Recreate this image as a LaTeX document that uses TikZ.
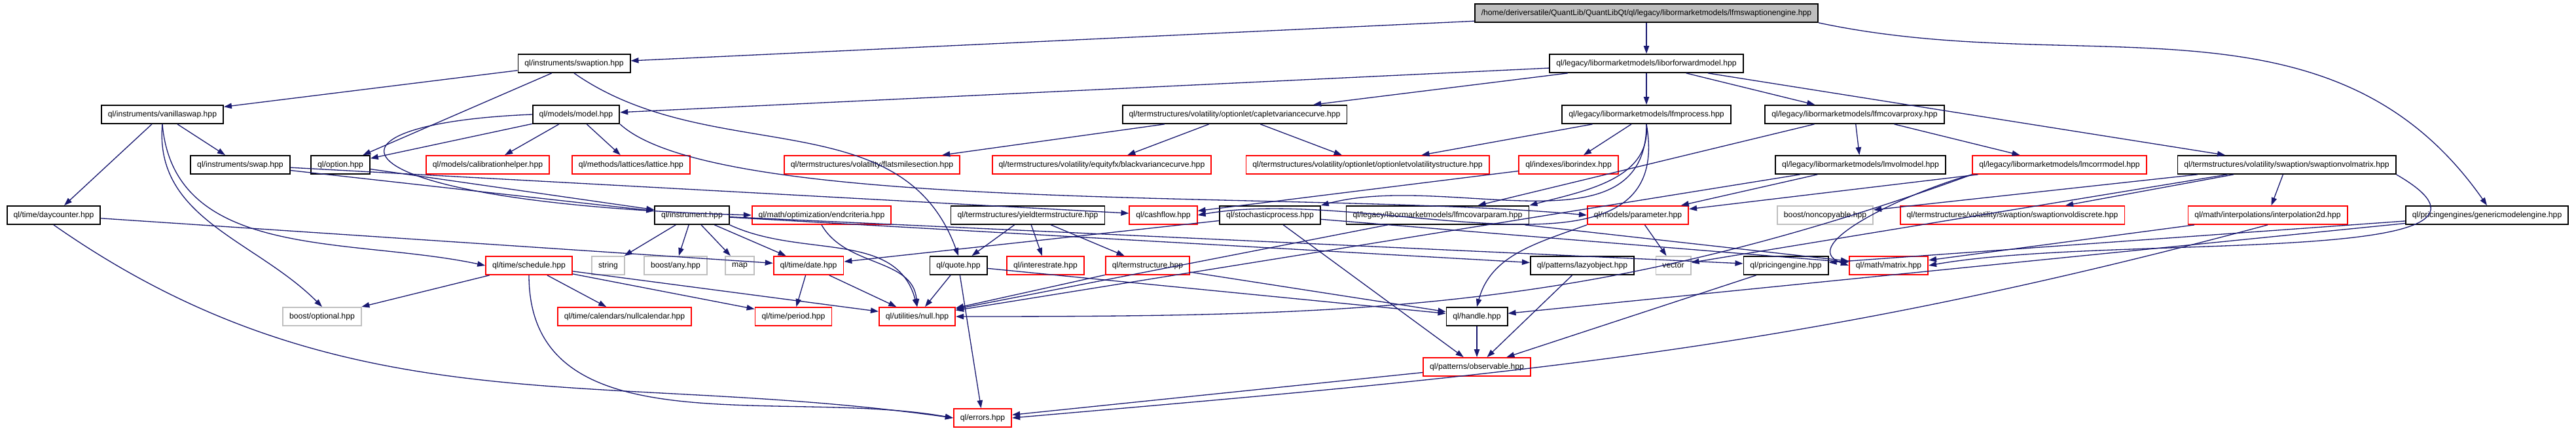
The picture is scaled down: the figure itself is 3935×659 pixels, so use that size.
\documentclass[tikz,border=0pt]{standalone}
\usepackage{fontspec}
\setmainfont{Liberation Sans}
\usetikzlibrary{arrows.meta,positioning}
\definecolor{edgeblue}{RGB}{25,25,112}
\definecolor{extgray}{RGB}{191,191,191}
\definecolor{truncred}{RGB}{255,0,0}
\tikzset{
  file/.style  = {draw=black,line width=0.45pt,fill=white,
                  font=\fontsize{3.05}{3.5}\selectfont,
                  minimum height=7pt,inner xsep=2.5pt,inner ysep=0pt},
  trunc/.style = {file,draw=truncred},
  ext/.style   = {file,draw=extgray},
  main/.style  = {file,fill=extgray},
  dep/.style   = {-{Triangle[length=3pt,width=2.1pt]},draw=edgeblue,line width=0.33pt},
}

\begin{document}
\begin{tikzpicture}[x=0.25pt,y=0.25pt]
  \useasboundingbox (0,0) rectangle (3935,-659);
  % rows of the include graph
  \node[main]  (top)           at (2515,-20)  {/home/deriversatile/QuantLib/QuantLibQt/ql/legacy/libormarketmodels/lfmswaptionengine.hpp};
  \node[file]  (swaption)      at (877,-97)   {ql/instruments/swaption.hpp};
  \node[file]  (lfm)           at (2515,-97)  {ql/legacy/libormarketmodels/liborforwardmodel.hpp};
  \node[file]  (vanillaswap)   at (248,-175)  {ql/instruments/vanillaswap.hpp};
  \node[file]  (model)         at (880,-175)  {ql/models/model.hpp};
  \node[file]  (capletvc)      at (1886,-175) {ql/termstructures/volatility/optionlet/capletvariancecurve.hpp};
  \node[file]  (lfmproc)       at (2515,-175) {ql/legacy/libormarketmodels/lfmprocess.hpp};
  \node[file]  (covarproxy)    at (2833,-175) {ql/legacy/libormarketmodels/lfmcovarproxy.hpp};
  \node[file]  (swap)          at (367,-252)  {ql/instruments/swap.hpp};
  \node[file]  (option)        at (520,-252)  {ql/option.hpp};
  \node[trunc] (calhelper)     at (745,-252)  {ql/models/calibrationhelper.hpp};
  \node[trunc] (lattice)       at (964,-252)  {ql/methods/lattices/lattice.hpp};
  \node[trunc] (flatsmile)     at (1332,-252) {ql/termstructures/volatility/flatsmilesection.hpp};
  \node[trunc] (blackvc)       at (1683,-252) {ql/termstructures/volatility/equityfx/blackvariancecurve.hpp};
  \node[trunc] (optletvs)      at (2089,-252) {ql/termstructures/volatility/optionlet/optionletvolatilitystructure.hpp};
  \node[trunc] (iborindex)     at (2396,-252) {ql/indexes/iborindex.hpp};
  \node[file]  (lmvol)         at (2842,-252) {ql/legacy/libormarketmodels/lmvolmodel.hpp};
  \node[trunc] (lmcorr)        at (3146,-252) {ql/legacy/libormarketmodels/lmcorrmodel.hpp};
  \node[file]  (swvolmatrix)   at (3493,-252) {ql/termstructures/volatility/swaption/swaptionvolmatrix.hpp};
  \node[file]  (daycounter)    at (82,-329)   {ql/time/daycounter.hpp};
  \node[file]  (instrument)    at (1057,-329) {ql/instrument.hpp};
  \node[trunc] (endcrit)       at (1255,-329) {ql/math/optimization/endcriteria.hpp};
  \node[file]  (yieldts)       at (1570,-329) {ql/termstructures/yieldtermstructure.hpp};
  \node[trunc] (cashflow)      at (1777,-329) {ql/cashflow.hpp};
  \node[file]  (stochproc)     at (1940,-329) {ql/stochasticprocess.hpp};
  \node[file]  (covarparam)    at (2196,-329) {ql/legacy/libormarketmodels/lfmcovarparam.hpp};
  \node[trunc] (parameter)     at (2502,-329) {ql/models/parameter.hpp};
  \node[ext]   (noncopyable)   at (2788,-329) {boost/noncopyable.hpp};
  \node[trunc] (swvoldiscrete) at (3074,-329) {ql/termstructures/volatility/swaption/swaptionvoldiscrete.hpp};
  \node[trunc] (interp2d)      at (3464,-329) {ql/math/interpolations/interpolation2d.hpp};
  \node[file]  (genengine)     at (3799,-329) {ql/pricingengines/genericmodelengine.hpp};
  \node[trunc] (schedule)      at (808,-406)  {ql/time/schedule.hpp};
  \node[ext]   (string)        at (929,-406)  {string};
  \node[ext]   (anyhpp)        at (1032,-406) {boost/any.hpp};
  \node[ext]   (map)           at (1130,-406) {map};
  \node[trunc] (date)          at (1235,-406) {ql/time/date.hpp};
  \node[file]  (quote)         at (1464,-406) {ql/quote.hpp};
  \node[trunc] (interestrate)  at (1597,-406) {ql/interestrate.hpp};
  \node[trunc] (termstruct)    at (1753,-406) {ql/termstructure.hpp};
  \node[file]  (lazyobj)       at (2417,-406) {ql/patterns/lazyobject.hpp};
  \node[ext]   (vector)        at (2556,-406) {vector};
  \node[file]  (pricingengine) at (2728,-406) {ql/pricingengine.hpp};
  \node[trunc] (matrix)        at (2885,-406) {ql/math/matrix.hpp};
  \node[ext]   (optional)      at (492,-484)  {boost/optional.hpp};
  \node[trunc] (nullcal)       at (954,-484)  {ql/time/calendars/nullcalendar.hpp};
  \node[trunc] (period)        at (1212,-484) {ql/time/period.hpp};
  \node[trunc] (nullhpp)       at (1401,-484) {ql/utilities/null.hpp};
  \node[file]  (handle)        at (2256,-484) {ql/handle.hpp};
  \node[trunc] (observable)    at (2256,-561) {ql/patterns/observable.hpp};
  \node[trunc] (errors)        at (1501,-639) {ql/errors.hpp};

  % straight dependencies
  \foreach \s/\t in {top/swaption,top/lfm,swaption/vanillaswap,swaption/option,
      lfm/model,lfm/capletvc,lfm/lfmproc,lfm/covarproxy,lfm/swvolmatrix,
      vanillaswap/swap,vanillaswap/daycounter,model/option,model/calhelper,
      model/lattice,capletvc/flatsmile,capletvc/blackvc,
      capletvc/optletvs,lfmproc/optletvs,lfmproc/iborindex,covarproxy/lmvol,
      covarproxy/lmcorr,covarproxy/covarparam,swap/instrument,swap/cashflow,
      option/instrument,daycounter/date,iborindex/cashflow,lmvol/parameter,
      lmvol/nullhpp,lmcorr/parameter,swvolmatrix/noncopyable,
      swvolmatrix/swvoldiscrete,swvolmatrix/interp2d,swvolmatrix/vector,
      instrument/string,instrument/anyhpp,instrument/map,instrument/date,
      instrument/lazyobj,instrument/pricingengine,
      yieldts/quote,yieldts/interestrate,yieldts/termstruct,stochproc/date,
      stochproc/observable,stochproc/matrix,covarparam/matrix,
      covarparam/nullhpp,parameter/vector,genengine/handle,
      genengine/pricingengine,interp2d/matrix,schedule/nullcal,
      schedule/period,schedule/optional,schedule/nullhpp,date/period,
      date/nullhpp,quote/nullhpp,quote/handle,quote/errors,
      termstruct/nullhpp,termstruct/handle,lazyobj/observable,
      pricingengine/observable,handle/observable,observable/errors}
    \draw[dep] (\s) -- (\t);

  % curved dependencies
  \draw[dep] (top.south east) to[out=-12,in=125] (genengine.north);
  \draw[dep] (swaption.south) to[out=-35,in=110] (quote.north);
  \draw[dep] (vanillaswap.south) to[out=-95,in=135] (optional.north);
  \draw[dep] (vanillaswap.south) to[out=-85,in=168] (schedule.west);
  \draw[dep] (model.west) .. controls (450,-190) and (500,-310) .. (endcrit.west);
  \draw[dep] (model.south east) .. controls (1100,-330) and (2000,-290) .. (parameter.west);
  \draw[dep] (instrument.south east) to[out=-25,in=105] (nullhpp.north);
  \draw[dep] (endcrit.south) to[out=-60,in=95] (nullhpp.north);
  \draw[dep] (lfmproc.south) to[out=-90,in=15] (stochproc.north east);
  \draw[dep] (lfmproc.south) to[out=-85,in=15] (covarparam.north east);
  \draw[dep] (lfmproc.south) to[out=-80,in=10] (cashflow.east);
  \draw[dep] (parameter.south west) to[out=200,in=75] (handle.north);
  \draw[dep] (lmcorr.south west) to[out=195,in=160] (matrix.west);
  \draw[dep] (lmcorr.south west) to[out=200,in=0] (nullhpp.east);
  \draw[dep] (swvolmatrix.south east) to[out=-30,in=10] (matrix.east);
  \draw[dep] (daycounter.south) to[out=-35,in=172] (errors.west);
  \draw[dep] (schedule.south) to[out=-90,in=170] (errors.west);
  \draw[dep] (interp2d.south) to[out=195,in=5] (errors.east);
\end{tikzpicture}
\end{document}
